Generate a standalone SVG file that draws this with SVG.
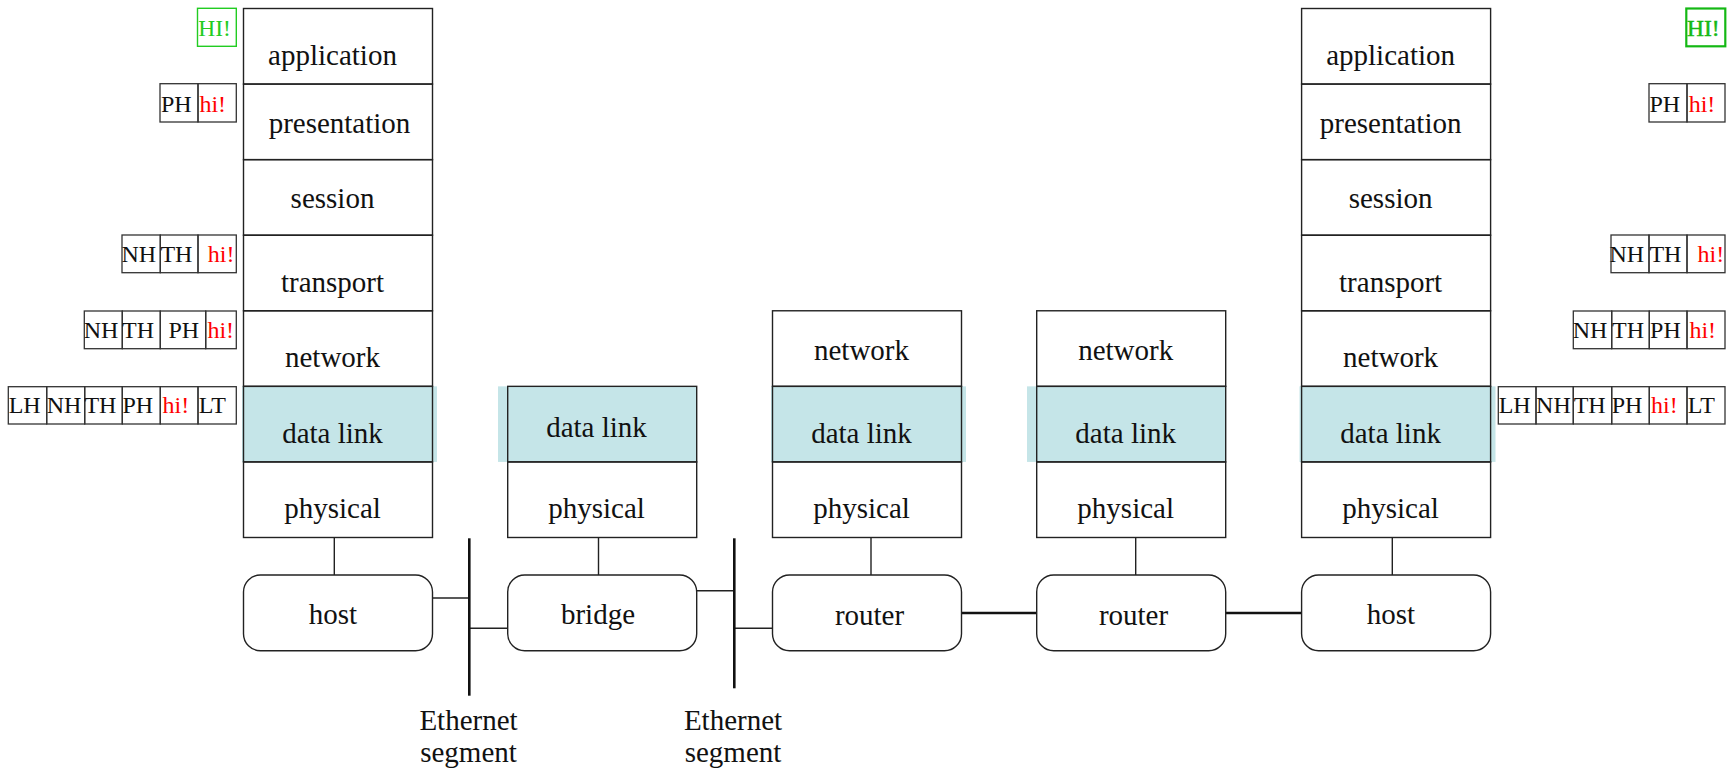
<svg xmlns="http://www.w3.org/2000/svg" width="1734" height="772" viewBox="0 0 1734 772">
<style>
.bg{fill:#ffffff}
.layer{fill:none;stroke:#222;stroke-width:1.4}
.hl{fill:#c5e5e8;stroke:none}
.node{fill:#fff;stroke:#222;stroke-width:1.4}
.lbl{font-family:"Liberation Serif","Times New Roman",serif;font-size:29px;fill:#111;text-anchor:middle}
.cell{fill:none;stroke:#333;stroke-width:1.3}
.ct{font-family:"Liberation Serif","Times New Roman",serif;font-size:24px;fill:#111}
.red{fill:#ff0000}
.gcell{fill:none;stroke:#22cc22;stroke-width:1.4}
.gt{font-family:"Liberation Serif","Times New Roman",serif;font-size:23.5px;fill:#22cc22}
.gcell2{fill:none;stroke:#14b814;stroke-width:2.2}
.gt2{font-family:"Liberation Serif","Times New Roman",serif;font-size:23.5px;fill:#14b814;stroke:#14b814;stroke-width:0.5}
.thin{stroke:#222;stroke-width:1.4;fill:none}
.thick{stroke:#111;stroke-width:2.6;fill:none}
</style>
<rect class="bg" x="0" y="0" width="1734" height="772"/>

<g id="connectors">
  <line class="thin" x1="334.3" y1="537.5" x2="334.3" y2="575"/>
  <line class="thin" x1="598.5" y1="537.5" x2="598.5" y2="575"/>
  <line class="thin" x1="871" y1="537.5" x2="871" y2="575"/>
  <line class="thin" x1="1135.7" y1="537.5" x2="1135.7" y2="575"/>
  <line class="thin" x1="1392.3" y1="537.5" x2="1392.3" y2="575"/>
  <line class="thin" x1="432.5" y1="598" x2="469.3" y2="598"/>
  <line class="thin" x1="469.3" y1="628.3" x2="507.7" y2="628.3"/>
  <line class="thin" x1="696.7" y1="590.7" x2="734.3" y2="590.7"/>
  <line class="thin" x1="734.3" y1="628.3" x2="772.5" y2="628.3"/>
  <line class="thick" x1="961.5" y1="613" x2="1036.7" y2="613"/>
  <line class="thick" x1="1225.7" y1="613" x2="1301.6" y2="613"/>
  <line class="thick" x1="469.3" y1="538.3" x2="469.3" y2="695.7"/>
  <line class="thick" x1="734.3" y1="538.3" x2="734.3" y2="688.3"/>
</g>

<g id="ethernet1">
  <text class="lbl" x="468.5" y="730">Ethernet</text>
  <text class="lbl" x="468.5" y="761.7">segment</text>
</g>
<g id="ethernet2">
  <text class="lbl" x="733" y="730">Ethernet</text>
  <text class="lbl" x="733" y="761.7">segment</text>
</g>

<g id="host1-stack">
  <rect class="hl" x="242" y="386.35" width="195" height="75.57"/>
  <rect class="layer" x="243.5" y="8.5" width="189" height="75.57"/>
  <rect class="layer" x="243.5" y="84.07" width="189" height="75.57"/>
  <rect class="layer" x="243.5" y="159.64" width="189" height="75.57"/>
  <rect class="layer" x="243.5" y="235.21" width="189" height="75.57"/>
  <rect class="layer" x="243.5" y="310.78" width="189" height="75.57"/>
  <rect class="layer" x="243.5" y="386.35" width="189" height="75.57"/>
  <rect class="layer" x="243.5" y="461.92" width="189" height="75.57"/>
  <text class="lbl" x="332.5" y="65">application</text>
  <text class="lbl" x="339.5" y="133.3">presentation</text>
  <text class="lbl" x="332.5" y="208">session</text>
  <text class="lbl" x="332.5" y="291.7">transport</text>
  <text class="lbl" x="332.5" y="366.7">network</text>
  <text class="lbl" x="332.5" y="442.7">data link</text>
  <text class="lbl" x="332.5" y="518.3">physical</text>
</g>

<g id="bridge-stack">
  <rect class="hl" x="498" y="386.35" width="199" height="75.57"/>
  <rect class="layer" x="507.7" y="386.35" width="189" height="75.57"/>
  <rect class="layer" x="507.7" y="461.92" width="189" height="75.57"/>
  <text class="lbl" x="596.5" y="436.7">data link</text>
  <text class="lbl" x="596.5" y="518.3">physical</text>
</g>

<g id="router1-stack">
  <rect class="hl" x="771" y="386.35" width="195" height="75.57"/>
  <rect class="layer" x="772.5" y="310.78" width="189" height="75.57"/>
  <rect class="layer" x="772.5" y="386.35" width="189" height="75.57"/>
  <rect class="layer" x="772.5" y="461.92" width="189" height="75.57"/>
  <text class="lbl" x="861.5" y="360">network</text>
  <text class="lbl" x="861.5" y="442.7">data link</text>
  <text class="lbl" x="861.5" y="518.3">physical</text>
</g>

<g id="router2-stack">
  <rect class="hl" x="1027" y="386.35" width="199" height="75.57"/>
  <rect class="layer" x="1036.7" y="310.78" width="189" height="75.57"/>
  <rect class="layer" x="1036.7" y="386.35" width="189" height="75.57"/>
  <rect class="layer" x="1036.7" y="461.92" width="189" height="75.57"/>
  <text class="lbl" x="1125.7" y="360">network</text>
  <text class="lbl" x="1125.7" y="442.7">data link</text>
  <text class="lbl" x="1125.7" y="518.3">physical</text>
</g>

<g id="host2-stack">
  <rect class="hl" x="1299.5" y="386.35" width="196" height="75.57"/>
  <rect class="layer" x="1301.6" y="8.5" width="189" height="75.57"/>
  <rect class="layer" x="1301.6" y="84.07" width="189" height="75.57"/>
  <rect class="layer" x="1301.6" y="159.64" width="189" height="75.57"/>
  <rect class="layer" x="1301.6" y="235.21" width="189" height="75.57"/>
  <rect class="layer" x="1301.6" y="310.78" width="189" height="75.57"/>
  <rect class="layer" x="1301.6" y="386.35" width="189" height="75.57"/>
  <rect class="layer" x="1301.6" y="461.92" width="189" height="75.57"/>
  <text class="lbl" x="1390.6" y="65">application</text>
  <text class="lbl" x="1390.6" y="133.3">presentation</text>
  <text class="lbl" x="1390.6" y="208">session</text>
  <text class="lbl" x="1390.6" y="291.7">transport</text>
  <text class="lbl" x="1390.6" y="366.7">network</text>
  <text class="lbl" x="1390.6" y="442.7">data link</text>
  <text class="lbl" x="1390.6" y="518.3">physical</text>
</g>

<g id="host1">
  <rect class="node" x="243.5" y="575" width="189" height="75.7" rx="17"/>
  <text class="lbl" x="333" y="624.3">host</text>
</g>
<g id="bridge">
  <rect class="node" x="507.7" y="575" width="189" height="75.7" rx="17"/>
  <text class="lbl" x="598" y="624.3">bridge</text>
</g>
<g id="router1">
  <rect class="node" x="772.5" y="575" width="189" height="75.7" rx="17"/>
  <text class="lbl" x="869.5" y="625">router</text>
</g>
<g id="router2">
  <rect class="node" x="1036.7" y="575" width="189" height="75.7" rx="17"/>
  <text class="lbl" x="1133.5" y="625">router</text>
</g>
<g id="host2">
  <rect class="node" x="1301.6" y="575" width="189" height="75.7" rx="17"/>
  <text class="lbl" x="1391" y="624.3">host</text>
</g>

<g id="pdu-left">
  <rect class="gcell" x="197.5" y="8.3" width="38.8" height="38"/>
  <text class="gt" x="198.3" y="36">HI!</text>

  <rect class="cell" x="160" y="83.7" width="38" height="38.3"/>
  <rect class="cell" x="198" y="83.7" width="38.3" height="38.3"/>
  <text class="ct" x="161" y="111.7">PH</text>
  <text class="ct red" x="199.4" y="111.7">hi!</text>

  <rect class="cell" x="122" y="235" width="38.3" height="37.7"/>
  <rect class="cell" x="160.3" y="235" width="37.7" height="37.7"/>
  <rect class="cell" x="198" y="235" width="38.3" height="37.7"/>
  <text class="ct" x="121.4" y="261.7">NH</text>
  <text class="ct" x="160.4" y="261.7">TH</text>
  <text class="ct red" x="207.8" y="261.7">hi!</text>

  <rect class="cell" x="84.3" y="311" width="38" height="37.7"/>
  <rect class="cell" x="122.3" y="311" width="38" height="37.7"/>
  <rect class="cell" x="160.3" y="311" width="45.4" height="37.7"/>
  <rect class="cell" x="205.7" y="311" width="30.6" height="37.7"/>
  <text class="ct" x="83.7" y="338.3">NH</text>
  <text class="ct" x="122.1" y="338.3">TH</text>
  <text class="ct" x="168.4" y="338.3">PH</text>
  <text class="ct red" x="207.4" y="338.3">hi!</text>

  <rect class="cell" x="8.3" y="386.7" width="38.4" height="37.3"/>
  <rect class="cell" x="46.7" y="386.7" width="38" height="37.3"/>
  <rect class="cell" x="84.7" y="386.7" width="37.6" height="37.3"/>
  <rect class="cell" x="122.3" y="386.7" width="38" height="37.3"/>
  <rect class="cell" x="160.3" y="386.7" width="37.7" height="37.3"/>
  <rect class="cell" x="198" y="386.7" width="38.3" height="37.3"/>
  <text class="ct" x="8.7" y="413.3">LH</text>
  <text class="ct" x="46.7" y="413.3">NH</text>
  <text class="ct" x="84.4" y="413.3">TH</text>
  <text class="ct" x="122.4" y="413.3">PH</text>
  <text class="ct red" x="162.6" y="413.3">hi!</text>
  <text class="ct" x="198.7" y="413.3">LT</text>
</g>

<g id="pdu-right">
  <rect class="gcell2" x="1686.3" y="8.5" width="39" height="37.8"/>
  <text class="gt2" x="1687" y="36">HI!</text>

  <rect class="cell" x="1649" y="83.7" width="38" height="38.3"/>
  <rect class="cell" x="1687" y="83.7" width="38" height="38.3"/>
  <text class="ct" x="1649.4" y="111.7">PH</text>
  <text class="ct red" x="1688.7" y="111.7">hi!</text>

  <rect class="cell" x="1611" y="235" width="38" height="37.7"/>
  <rect class="cell" x="1649" y="235" width="38" height="37.7"/>
  <rect class="cell" x="1687" y="235" width="38" height="37.7"/>
  <text class="ct" x="1609.4" y="261.7">NH</text>
  <text class="ct" x="1649.4" y="261.7">TH</text>
  <text class="ct red" x="1697.5" y="261.7">hi!</text>

  <rect class="cell" x="1573.3" y="311" width="38.4" height="37.7"/>
  <rect class="cell" x="1611.7" y="311" width="37.6" height="37.7"/>
  <rect class="cell" x="1649.3" y="311" width="37.7" height="37.7"/>
  <rect class="cell" x="1687" y="311" width="38" height="37.7"/>
  <text class="ct" x="1572.7" y="338.3">NH</text>
  <text class="ct" x="1612.1" y="338.3">TH</text>
  <text class="ct" x="1650.1" y="338.3">PH</text>
  <text class="ct red" x="1689.4" y="338.3">hi!</text>

  <rect class="cell" x="1498.3" y="386.7" width="37.7" height="37.3"/>
  <rect class="cell" x="1536" y="386.7" width="37.3" height="37.3"/>
  <rect class="cell" x="1573.3" y="386.7" width="38.4" height="37.3"/>
  <rect class="cell" x="1611.7" y="386.7" width="37.6" height="37.3"/>
  <rect class="cell" x="1649.3" y="386.7" width="37.7" height="37.3"/>
  <rect class="cell" x="1687" y="386.7" width="38" height="37.3"/>
  <text class="ct" x="1498.7" y="413.3">LH</text>
  <text class="ct" x="1536.1" y="413.3">NH</text>
  <text class="ct" x="1573.7" y="413.3">TH</text>
  <text class="ct" x="1611.7" y="413.3">PH</text>
  <text class="ct red" x="1651.1" y="413.3">hi!</text>
  <text class="ct" x="1687.7" y="413.3">LT</text>
</g>
</svg>
